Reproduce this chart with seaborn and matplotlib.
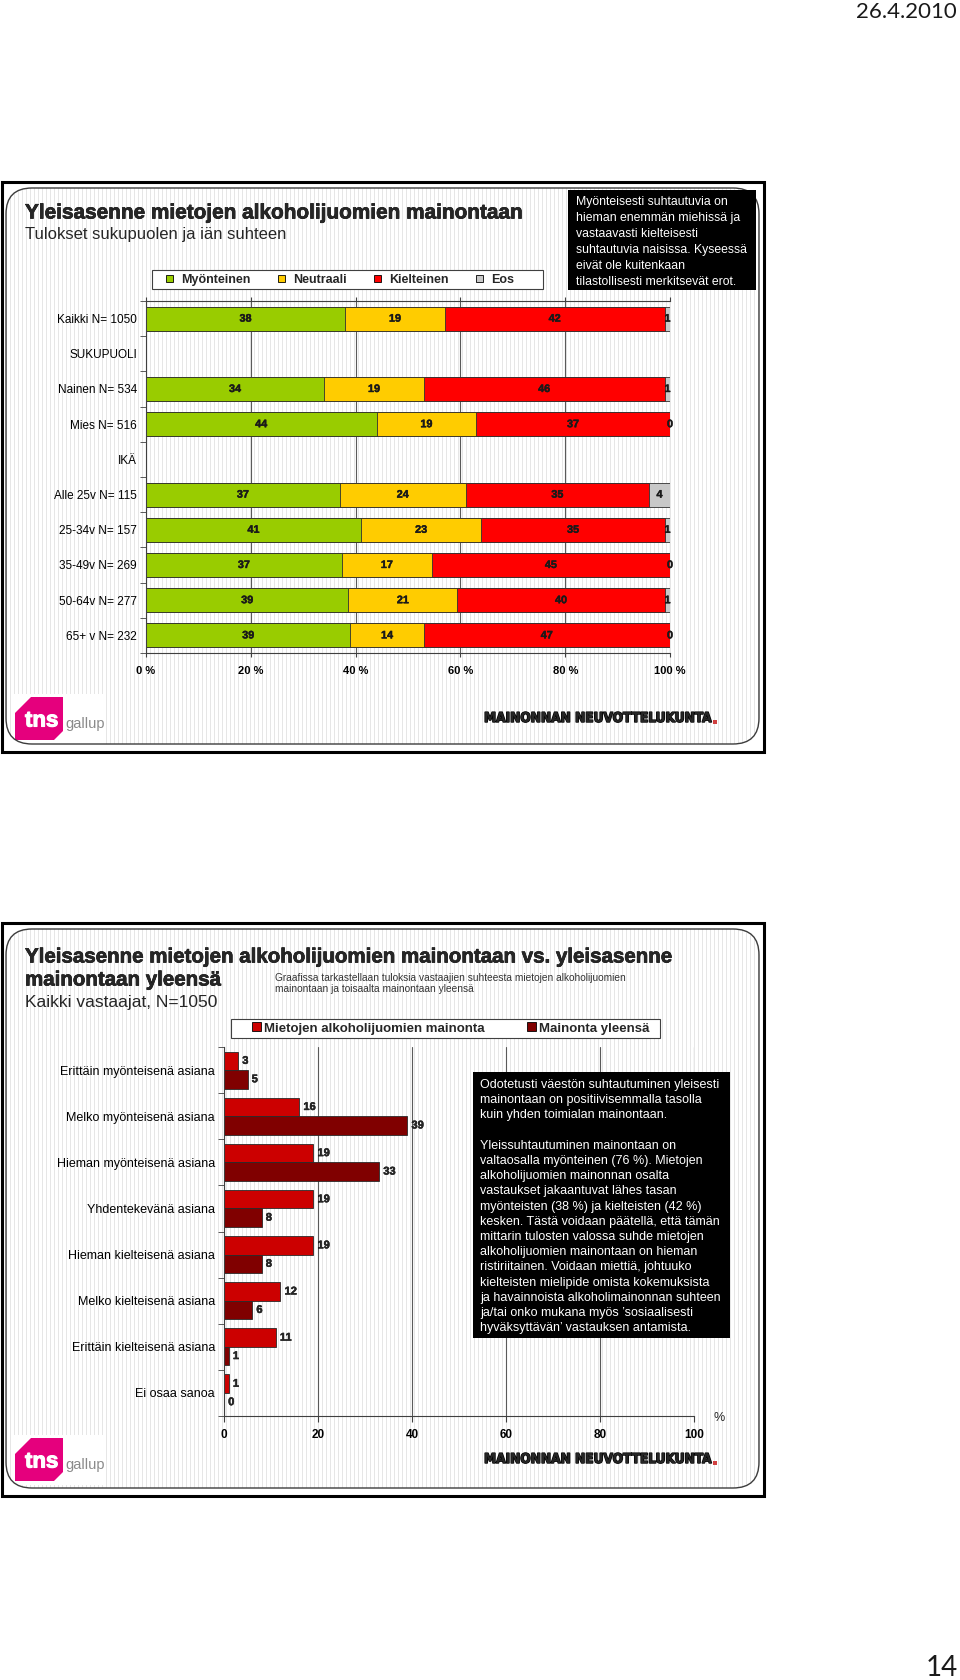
import numpy as np
import pandas as pd
import seaborn as sns
import matplotlib.pyplot as plt
import matplotlib.patheffects as pe
from matplotlib.patches import Rectangle, FancyBboxPatch, Polygon, Patch

# Ylempi kuva: suhtautuminen sukupuolen ja iän mukaan (%)
groups = ["Kaikki N= 1050", "SUKUPUOLI", "Nainen N= 534", "Mies N= 516", "IKÄ",
          "Alle 25v N= 115", "25-34v N= 157", "35-49v N= 269", "50-64v N= 277",
          "65+ v N= 232"]
data_groups = ["Kaikki N= 1050", "Nainen N= 534", "Mies N= 516", "Alle 25v N= 115",
               "25-34v N= 157", "35-49v N= 269", "50-64v N= 277", "65+ v N= 232"]
answer_labels = ["Myönteinen", "Neutraali", "Kielteinen", "Eos"]
myonteinen = [38, 34, 44, 37, 41, 37, 39, 39]
neutraali = [19, 19, 19, 24, 23, 17, 21, 14]
kielteinen = [42, 46, 37, 35, 35, 45, 40, 47]
eos = [1, 1, 0, 4, 1, 0, 1, 0]
pct_ticks = [0, 20, 40, 60, 80, 100]

# Alempi kuva: mietojen alkoholijuomien mainonta vs. mainonta yleensä (%)
scale_labels = ["Erittäin myönteisenä asiana", "Melko myönteisenä asiana",
                "Hieman myönteisenä asiana", "Yhdentekevänä asiana",
                "Hieman kielteisenä asiana", "Melko kielteisenä asiana",
                "Erittäin kielteisenä asiana", "Ei osaa sanoa"]
series_labels = ["Mietojen alkoholijuomien mainonta", "Mainonta yleensä"]
mietojen = [3, 16, 19, 19, 19, 12, 11, 1]
yleensa = [5, 39, 33, 8, 8, 6, 1, 0]

colors_top = ["#99CC00", "#FFCC00", "#FF0000", "#C8C8C8"]
colors_bottom = ["#CC0000", "#800000"]

box_top = ["Myönteisesti suhtautuvia on",
           "hieman enemmän miehissä ja",
           "vastaavasti kielteisesti",
           "suhtautuvia naisissa. Kyseessä",
           "eivät ole kuitenkaan",
           "tilastollisesti merkitsevät erot."]
box_bottom = ["Odotetusti väestön suhtautuminen yleisesti",
              "mainontaan on positiivisemmalla tasolla",
              "kuin yhden toimialan mainontaan.",
              "",
              "Yleissuhtautuminen mainontaan on",
              "valtaosalla myönteinen (76 %). Mietojen",
              "alkoholijuomien mainonnan osalta",
              "vastaukset jakaantuvat lähes tasan",
              "myönteisten (38 %) ja kielteisten (42 %)",
              "kesken. Tästä voidaan päätellä, että tämän",
              "mittarin tulosten valossa suhde mietojen",
              "alkoholijuomien mainontaan on hieman",
              "ristiriitainen. Voidaan miettiä, johtuuko",
              "kielteisten mielipide omista kokemuksista",
              "ja havainnoista alkoholimainonnan suhteen",
              "ja/tai onko mukana myös ’sosiaalisesti",
              "hyväksyttävän’ vastauksen antamista."]

sns.set_style("ticks")
plt.rcParams["font.family"] = ["Liberation Sans", "DejaVu Sans"]
plt.rcParams["axes.edgecolor"] = "#404040"
plt.rcParams["xtick.color"] = "#404040"
plt.rcParams["ytick.color"] = "#404040"
plt.rcParams["xtick.labelcolor"] = "black"
plt.rcParams["ytick.labelcolor"] = "black"


def heavy(w, color="black"):
    # vähän paksunnusta, jotta lihavointi näyttää samalta kuin kuvassa
    return [pe.withStroke(linewidth=w, foreground=color)]


W, H = 960, 1680
fig = plt.figure(figsize=(W / 100, H / 100), dpi=100)
renderer = fig.canvas.get_renderer()


def px_rect(left, top, right, bottom):
    return [left / W, 1 - bottom / H, (right - left) / W, (bottom - top) / H]


def fit_width(t, target):
    w = t.get_window_extent(renderer).width
    t.set_fontsize(t.get_fontsize() * target / w)


bg = fig.add_axes([0, 0, 1, 1], zorder=-1)
fg = fig.add_axes([0, 0, 1, 1], zorder=5)
for a in (bg, fg):
    a.axis("off")
    a.patch.set_alpha(0)
    a.set_xlim(0, W)
    a.set_ylim(H, 0)


def slide(top, height):
    bg.add_patch(Rectangle((2, top), 762, height, fc="white", ec="black", lw=2.2, zorder=0))
    inner = FancyBboxPatch((6, top + 6), 753, height - 14,
                           boxstyle="round,pad=0,rounding_size=26",
                           fc="none", ec="#3c3c3c", lw=1, zorder=3)
    bg.add_patch(inner)
    stripes = np.where(np.arange(753) % 4 == 0, 0.9, 1.0)[None, :]
    im = bg.imshow(stripes, cmap="gray", vmin=0, vmax=1, interpolation="nearest",
                   extent=(6, 759, top + height - 8, top + 6), aspect="auto", zorder=1)
    im.set_clip_path(inner)
    # logot
    bg.add_patch(Rectangle((14, top + 512), 92, 50, fc="white", ec="none", zorder=2))
    bg.add_patch(Polygon([(15, top + 531), (31, top + 515), (63, top + 515),
                          (63, top + 549), (54, top + 558), (15, top + 558)],
                         closed=True, fc="#E5007D", ec="none", zorder=2))
    bg.text(25, top + 539, "tns", color="white", fontsize=16, fontweight="bold",
            va="center", ha="left", zorder=4, path_effects=heavy(0.8, "white"))
    bg.text(65, top + 542, "gallup", color="#8a8a8a", fontsize=10.5,
            va="center", ha="left", zorder=4)
    t = bg.text(484, top + 536, "MAINONNAN NEUVOTTELUKUNTA", family="DejaVu Sans",
                fontstretch="condensed", fontsize=12, fontweight="bold", va="center",
                ha="left", zorder=4, path_effects=heavy(1.0))
    fit_width(t, 228)
    bg.add_patch(Rectangle((713, top + 538), 3.5, 3.5, fc="#d04040", ec="none", zorder=4))


slide(182, 570)
slide(923, 573)

fg.text(957, 12, "26.4.2010", family=["Lato", "DejaVu Sans"], fontsize=16,
        color="#1a1a1a", ha="right", va="center")
fg.text(958, 1668, "14", family=["Lato", "DejaVu Sans"], fontsize=20,
        color="#1a1a1a", ha="right", va="center")

# ---------- ylempi dia ----------
t = bg.text(25, 213, "Yleisasenne mietojen alkoholijuomien mainontaan", fontsize=15,
            fontweight="bold", va="center", zorder=4, path_effects=heavy(0.45))
fit_width(t, 500)
bg.text(25, 234, "Tulokset sukupuolen ja iän suhteen", fontsize=12, va="center", zorder=4)

fg.add_patch(Rectangle((568, 190), 188, 100, fc="black", ec="none"))
for i, line in enumerate(box_top):
    fg.text(576, 202 + 16 * i, line, color="white", fontsize=8.8, va="center")

bg.add_patch(Rectangle((152, 270), 391, 19, fc="white", ec="#404040", lw=0.8, zorder=4))

df1 = pd.DataFrame({"ryhma": data_groups, "Myönteinen": myonteinen,
                    "Neutraali": neutraali, "Kielteinen": kielteinen, "Eos": eos})
shares = df1[answer_labels].div(df1[answer_labels].sum(axis=1), axis=0) * 100
cum = shares.cumsum(axis=1)

ax1 = fig.add_axes(px_rect(146, 301, 670, 653))
ax1.patch.set_alpha(0)
# pinottu palkki: piirretään kumulatiiviset summat suurimmasta pienimpään
for col, color in reversed(list(zip(answer_labels, colors_top))):
    sns.barplot(x=cum[col].values, y=df1["ryhma"].values, order=groups, orient="y",
                color=color, saturation=1, width=0.68, edgecolor="#303030",
                linewidth=0.6, errorbar=None, ax=ax1)

for i, g in enumerate(data_groups):
    ypos = groups.index(g)
    left = 0
    for col in answer_labels:
        w = shares.loc[i, col]
        ax1.text(left + w / 2, ypos, str(df1.loc[i, col]), ha="center", va="center",
                 fontsize=7.8, fontweight="bold", color="#1a1a1a",
                 path_effects=heavy(0.3, "#1a1a1a"))
        left += w

ax1.set_xlim(0, 100)
ax1.set_ylim(len(groups) - 0.5, -0.5)
ax1.set_xticks(pct_ticks)
ax1.set_xticklabels([f"{t} %" for t in pct_ticks], fontsize=8, fontweight="bold")
ax1.set_yticks(range(len(groups)))
ax1.set_yticklabels(groups, fontsize=8.5)
ax1.set_yticks(np.arange(-0.5, len(groups), 1), minor=True)
ax1.tick_params(axis="y", which="major", length=0, pad=6.5)
ax1.tick_params(axis="y", which="minor", length=4, direction="out")
ax1.tick_params(axis="x", top=True, length=3, direction="out", pad=6)
ax1.grid(axis="x", color="#5a5a5a", lw=0.8)
ax1.set_axisbelow(True)
ax1.spines["right"].set_visible(False)
ax1.set_xlabel("")
ax1.set_ylabel("")

handles = [Patch(fc=c, ec="black", lw=0.6) for c in colors_top]
ax1.legend(handles, answer_labels, ncol=4, loc="center left",
           bbox_to_anchor=(166, 280), bbox_transform=bg.transData, frameon=False,
           prop={"size": 9, "weight": "bold"}, handlelength=0.55, handleheight=0.55,
           handletextpad=0.65, columnspacing=2.2, borderpad=0, borderaxespad=0)

# ---------- alempi dia ----------
t = bg.text(25, 957, "Yleisasenne mietojen alkoholijuomien mainontaan vs. yleisasenne",
            fontsize=15, fontweight="bold", va="center", zorder=4, path_effects=heavy(0.45))
fit_width(t, 650)
bg.text(25, 980, "mainontaan yleensä", fontsize=t.get_fontsize(), fontweight="bold",
        va="center", zorder=4, path_effects=heavy(0.45))
bg.text(25, 1002, "Kaikki vastaajat, N=1050", fontsize=12.5, va="center", zorder=4)
bg.text(275, 978, "Graafissa tarkastellaan tuloksia vastaajien suhteesta mietojen alkoholijuomien",
        fontsize=7.3, va="center", color="#333333", zorder=4)
bg.text(275, 989, "mainontaan ja toisaalta mainontaan yleensä",
        fontsize=7.3, va="center", color="#333333", zorder=4)

bg.add_patch(Rectangle((231, 1019), 429, 19, fc="white", ec="#404040", lw=0.8, zorder=4))

df2 = pd.DataFrame({"asenne": scale_labels * 2,
                    "osuus": mietojen + yleensa,
                    "sarja": [series_labels[0]] * len(mietojen) + [series_labels[1]] * len(yleensa)})

ax2 = fig.add_axes(px_rect(224, 1047, 694, 1416))
ax2.patch.set_alpha(0)
sns.barplot(data=df2, x="osuus", y="asenne", hue="sarja", order=scale_labels,
            hue_order=series_labels, palette=colors_bottom, saturation=1, width=0.8,
            edgecolor="#2a2a2a", linewidth=0.6, errorbar=None, orient="y",
            legend=False, ax=ax2)
for cont in ax2.containers:
    ax2.bar_label(cont, fmt="{:.0f}", padding=3, fontsize=8, fontweight="bold",
                  path_effects=heavy(0.3))

ax2.set_xlim(0, 100)
ax2.set_ylim(len(scale_labels) - 0.5, -0.5)
ax2.set_xticks(pct_ticks)
ax2.set_xticklabels([str(t) for t in pct_ticks], fontsize=8.5, fontweight="bold")
ax2.set_yticks(range(len(scale_labels)))
ax2.set_yticklabels(scale_labels, fontsize=9)
ax2.set_yticks(np.arange(-0.5, len(scale_labels), 1), minor=True)
ax2.tick_params(axis="y", which="major", length=0, pad=6.5)
ax2.tick_params(axis="y", which="minor", length=4, direction="out")
ax2.tick_params(axis="x", length=4, direction="out", pad=5)
ax2.grid(axis="x", color="#5a5a5a", lw=0.8)
ax2.set_axisbelow(True)
ax2.spines["top"].set_visible(False)
ax2.spines["right"].set_visible(False)
ax2.set_xlabel("")
ax2.set_ylabel("")
bg.text(719, 1418, "%", fontsize=9, va="center", ha="center", zorder=4)

handles2 = [Patch(fc=c, ec="black", lw=0.6) for c in colors_bottom]
ax2.legend(handles2, series_labels, ncol=2, loc="center left",
           bbox_to_anchor=(252, 1028.5), bbox_transform=bg.transData, frameon=False,
           prop={"size": 9.5, "weight": "bold"}, handlelength=0.68, handleheight=0.68,
           handletextpad=0.25, columnspacing=3.2, borderpad=0, borderaxespad=0)

fg.add_patch(Rectangle((473, 1072), 257, 266, fc="black", ec="none"))
for i, line in enumerate(box_bottom):
    fg.text(480, 1085 + 15.2 * i, line, color="white", fontsize=9, va="center")

for a in (bg, fg):
    a.set_xlim(0, W)
    a.set_ylim(H, 0)

fig.savefig("out.png", dpi=100)
